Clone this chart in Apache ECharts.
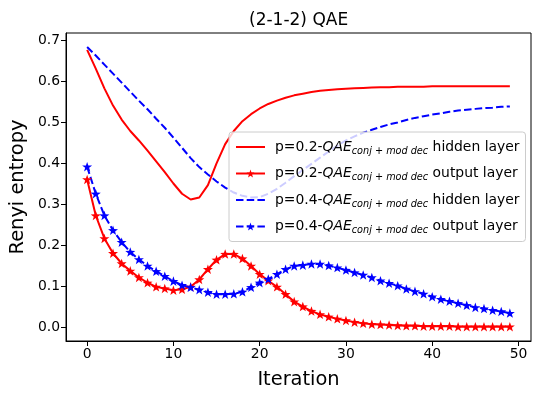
<!DOCTYPE html>
<html>
<head>
<meta charset="utf-8">
<script src="https://cdn.jsdelivr.net/npm/echarts@6/dist/echarts.min.js"></script>
<style>
html, body { margin: 0; padding: 0; background: #fff; }
#chart { width: 541px; height: 399px; }
</style>
</head>
<body>
<div id="chart"></div>
<script>
// x: iteration index
var iterations = [0, 1, 2, 3, 4, 5, 6, 7, 8, 9, 10, 11, 12, 13, 14, 15, 16, 17, 18, 19,
  20, 21, 22, 23, 24, 25, 26, 27, 28, 29, 30, 31, 32, 33, 34, 35, 36, 37, 38, 39,
  40, 41, 42, 43, 44, 45, 46, 47, 48, 49]

// p=0.2 hidden layer
var redHidden = [0.676, 0.630, 0.582, 0.540, 0.506, 0.478, 0.455, 0.430, 0.404, 0.378,
  0.350, 0.325, 0.311, 0.316, 0.346, 0.399, 0.446, 0.478, 0.502, 0.519,
  0.533, 0.544, 0.552, 0.559, 0.565, 0.569, 0.573, 0.576, 0.578, 0.580,
  0.581, 0.582, 0.583, 0.584, 0.585, 0.585, 0.586, 0.586, 0.586, 0.586,
  0.587, 0.587, 0.587, 0.587, 0.587, 0.587, 0.587, 0.587, 0.587, 0.587]
// p=0.2 output layer
var redOutput = [0.360, 0.272, 0.216, 0.180, 0.155, 0.137, 0.121, 0.108, 0.098, 0.094,
  0.090, 0.092, 0.098, 0.116, 0.141, 0.164, 0.178, 0.178, 0.167, 0.149,
  0.129, 0.113, 0.098, 0.080, 0.062, 0.050, 0.039, 0.031, 0.025, 0.020,
  0.016, 0.012, 0.009, 0.007, 0.006, 0.005, 0.004, 0.003, 0.003, 0.002,
  0.002, 0.002, 0.002, 0.001, 0.001, 0.001, 0.001, 0.001, 0.001, 0.001]
// p=0.4 hidden layer
var blueHidden = [0.683, 0.662, 0.640, 0.618, 0.596, 0.574, 0.552, 0.531, 0.508, 0.486,
  0.462, 0.437, 0.412, 0.390, 0.372, 0.355, 0.340, 0.328, 0.320, 0.316,
  0.317, 0.325, 0.337, 0.352, 0.368, 0.383, 0.398, 0.413, 0.428, 0.442,
  0.455, 0.465, 0.474, 0.481, 0.488, 0.494, 0.499, 0.505, 0.510, 0.514,
  0.518, 0.521, 0.525, 0.528, 0.530, 0.532, 0.534, 0.535, 0.537, 0.538]
// p=0.4 output layer
var blueOutput = [0.391, 0.325, 0.272, 0.236, 0.207, 0.183, 0.165, 0.149, 0.136, 0.124,
  0.112, 0.102, 0.097, 0.091, 0.085, 0.080, 0.080, 0.081, 0.086, 0.097,
  0.108, 0.117, 0.129, 0.141, 0.149, 0.151, 0.154, 0.154, 0.150, 0.145,
  0.139, 0.133, 0.127, 0.121, 0.113, 0.107, 0.101, 0.093, 0.087, 0.081,
  0.074, 0.068, 0.063, 0.058, 0.053, 0.048, 0.045, 0.041, 0.038, 0.034]

var xTicks = [0, 10, 20, 30, 40, 50]
var yTicks = [0.0, 0.1, 0.2, 0.3, 0.4, 0.5, 0.6, 0.7]

var probs = ['0.2', '0.2', '0.4', '0.4']
var layers = ['hidden layer', 'output layer', 'hidden layer', 'output layer']

var FONT = 'DejaVu Sans'
var STAR = 'path://M0,-10L2.35,-3.24L9.51,-3.09L3.8,1.24L5.88,8.09L0,4L-5.88,8.09L-3.8,1.24L-9.51,-3.09L-2.35,-3.24Z'

function pairs(vals) {
  return iterations.map(function (x, i) { return [x, vals[i]] })
}
function seriesName(i) {
  return 'p=' + probs[i] + ' ' + layers[i]
}
function makeSeries(i, vals, color, dashed, star) {
  return {
    name: seriesName(i),
    type: 'line',
    data: pairs(vals),
    color: color,
    symbol: star ? STAR : 'none',
    showSymbol: star,
    symbolSize: 10,
    symbolKeepAspect: true,
    itemStyle: { color: color },
    lineStyle: { color: color, width: 2, type: dashed ? [7.5, 3.2] : 'solid' },
    animation: false
  }
}

var chart = echarts.init(document.getElementById('chart'), null, { renderer: 'canvas' })

chart.setOption({
  backgroundColor: '#fff',
  animation: false,
  title: {
    text: '(2-1-2) QAE',
    left: 249,
    top: 12,
    padding: 0,
    textStyle: { fontFamily: FONT, fontSize: 17, fontWeight: 'normal', color: '#000' }
  },
  grid: {
    left: 66, right: 10, top: 33, bottom: 58,
    show: true, borderColor: '#000', borderWidth: 1,
    containLabel: false
  },
  legend: {
    orient: 'vertical',
    left: 229,
    top: 132,
    padding: [6, 6, 6, 6],
    itemWidth: 29,
    itemHeight: 10,
    itemGap: 8.5,
    backgroundColor: 'rgba(255,255,255,0.8)',
    borderColor: '#cccccc',
    borderWidth: 1,
    borderRadius: 3,
    // hidden-layer entries: line only, no marker
    data: [0, 1, 2, 3].map(function (i) {
      var item = { name: seriesName(i) }
      if (layers[i] === 'hidden layer') item.itemStyle = { opacity: 0 }
      return item
    }),
    formatter: function (name) {
      var idx = [0, 1, 2, 3].filter(function (i) { return seriesName(i) === name })[0]
      return '{p|p=' + probs[idx] + '-}{q|QAE}{s|conj + mod dec}{n| ' + layers[idx] + '}'
    },
    textStyle: {
      fontFamily: FONT,
      color: '#000',
      rich: {
        p: { fontFamily: FONT, fontSize: 13.9, color: '#000', lineHeight: 21, padding: [0, 0, 0, 5] },
        n: { fontFamily: FONT, fontSize: 13.9, color: '#000', lineHeight: 21 },
        q: { fontFamily: FONT, fontSize: 13.9, fontStyle: 'italic', color: '#000', lineHeight: 21 },
        s: { fontFamily: FONT, fontSize: 9.7, fontStyle: 'italic', color: '#000', lineHeight: 21, padding: [8, 0, 0, 0] }
      }
    }
  },
  xAxis: {
    type: 'value',
    min: -2.45,
    max: 51.45,
    name: 'Iteration',
    nameLocation: 'middle',
    nameGap: 29,
    nameTextStyle: { fontFamily: FONT, fontSize: 19.4, color: '#000' },
    axisLine: { show: true, onZero: false, lineStyle: { color: '#000', width: 1 } },
    axisTick: { show: true, inside: false, length: 5, customValues: xTicks, lineStyle: { color: '#000' } },
    axisLabel: { customValues: xTicks, fontFamily: FONT, fontSize: 13.9, color: '#000', margin: 6 },
    splitLine: { show: false }
  },
  yAxis: {
    type: 'value',
    min: -0.034,
    max: 0.717,
    name: 'Renyi entropy',
    nameLocation: 'middle',
    nameGap: 34,
    nameTextStyle: { fontFamily: FONT, fontSize: 19.4, color: '#000' },
    axisLine: { show: true, onZero: false, lineStyle: { color: '#000', width: 1 } },
    axisTick: { show: true, inside: false, length: 5, customValues: yTicks, lineStyle: { color: '#000' } },
    axisLabel: {
      customValues: yTicks, fontFamily: FONT, fontSize: 13.9, color: '#000', margin: 6,
      formatter: function (v) { return v.toFixed(1) }
    },
    splitLine: { show: false }
  },
  series: [
    makeSeries(0, redHidden, '#ff0000', false, false),
    makeSeries(1, redOutput, '#ff0000', false, true),
    makeSeries(2, blueHidden, '#0000ff', true, false),
    makeSeries(3, blueOutput, '#0000ff', true, true)
  ]
})
</script>
</body>
</html>
